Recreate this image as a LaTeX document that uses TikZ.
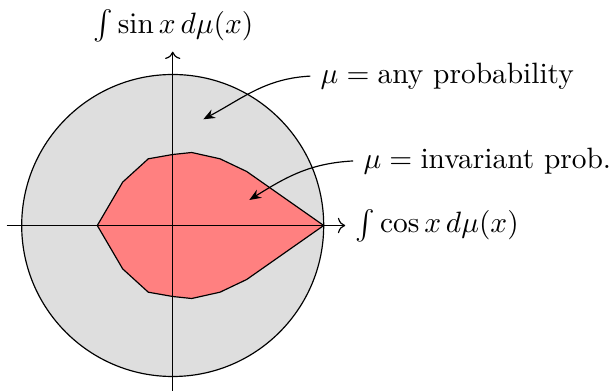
\documentclass[tikz,border=0pt]{standalone}
\usetikzlibrary{arrows.meta}
\begin{document}
\begin{tikzpicture}[x=0.34pt,y=0.34pt,
  region/.style={draw=black,line width=0.4pt},
  axis/.style={->,line width=0.4pt},
  pointer/.style={-{Stealth[length=4pt,width=3.2pt,inset=1.3pt]},line width=0.4pt}]
\useasboundingbox (-172.7,-165.5) rectangle (439.3,225.5);
\coordinate (O) at (0,0);
\draw[region,fill=black!13] (O) circle[radius=151];
\draw[region,fill=red!50] (-75.4,0) -- (-50,43.4) -- (-24.4,66.7) -- (0,71) -- (19,73)
  -- (47.3,66.7) -- (74,54) -- (151,0) -- (74,-54) -- (47.3,-66.7) -- (19,-73)
  -- (0,-71) -- (-24.4,-66.7) -- (-50,-43.4) -- cycle;
\coordinate (xl) at (-166,0);
\coordinate (xr) at (172.5,0);
\coordinate (yb) at (0,-166);
\coordinate (yt) at (0,173.8);
\draw[axis] (xl) -- (xr);
\draw[axis] (yb) -- (yt);
\node[anchor=base,inner sep=0pt] (ylab) at (0.6,192.2) {$\int \sin x\, d\mu(x)$};
\node[right,inner sep=3.3pt] (xlab) at (xr) {$\int \cos x\, d\mu(x)$};
\node[anchor=base west] (any) at (137.6,142.2) {$\mu = \mbox{any probability}$};
\node[anchor=base west] (inv) at (180.5,57.2) {$\mu = \mbox{invariant prob.}$};
\coordinate (anytip) at (30.6,106.2);
\coordinate (invtip) at (76.6,25.5);
\draw[pointer] (any.west) to[out=183,in=28] (anytip);
\draw[pointer] (inv.west) to[out=183,in=32] (invtip);
\end{tikzpicture}
\end{document}
